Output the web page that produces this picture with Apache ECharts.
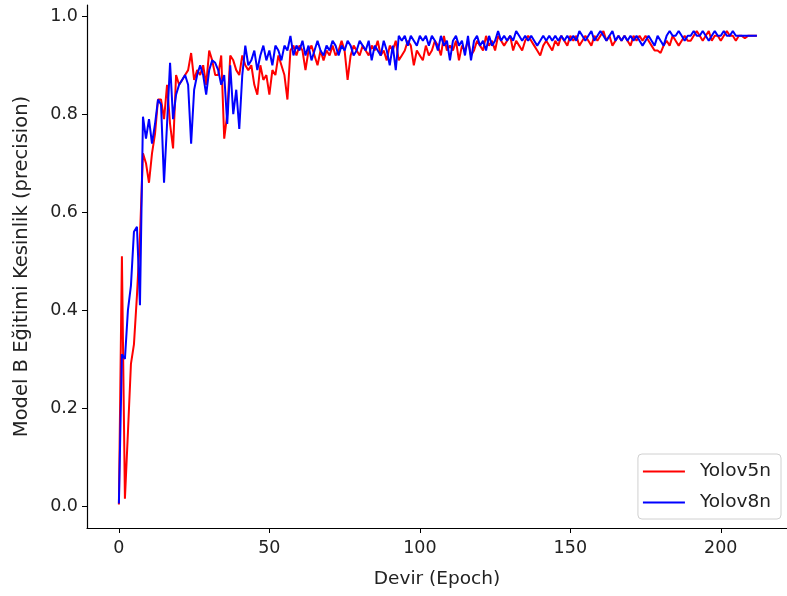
<!DOCTYPE html>
<html>
<head>
<meta charset="utf-8">
<script src="https://cdn.jsdelivr.net/npm/echarts@6/dist/echarts.min.js"></script>
<style>html,body{margin:0;padding:0;background:#fff}#c{width:787px;height:596px}</style>
</head>
<body>
<div id="c"></div>
<script>
const seriesNames = ["Yolov5n", "Yolov8n"];
const xTicks = [0, 50, 100, 150, 200];
const yTicks = [0, 0.2, 0.4, 0.6, 0.8, 1.0];
const yolov5n = [
0.003,0.51,0.015,0.15,0.29,0.33,0.43,0.55,0.72,0.70,
0.66,0.72,0.76,0.83,0.83,0.79,0.86,0.78,0.73,0.88,
0.86,0.87,0.88,0.89,0.925,0.87,0.89,0.88,0.90,0.86,
0.93,0.91,0.88,0.88,0.92,0.75,0.80,0.92,0.91,0.89,
0.88,0.92,0.90,0.89,0.90,0.86,0.84,0.90,0.87,0.88,
0.84,0.89,0.88,0.92,0.90,0.88,0.83,0.93,0.94,0.92,
0.94,0.93,0.89,0.93,0.94,0.92,0.90,0.93,0.91,0.93,
0.92,0.94,0.92,0.93,0.95,0.93,0.87,0.92,0.94,0.93,
0.92,0.94,0.93,0.92,0.94,0.93,0.95,0.92,0.93,0.91,
0.94,0.93,0.95,0.91,0.92,0.93,0.95,0.94,0.90,0.93,
0.92,0.91,0.94,0.92,0.93,0.95,0.94,0.92,0.96,0.93,
0.94,0.93,0.95,0.91,0.94,0.93,0.95,0.92,0.93,0.95,
0.94,0.93,0.96,0.94,0.95,0.93,0.96,0.95,0.94,0.95,
0.96,0.93,0.95,0.94,0.93,0.95,0.96,0.95,0.94,0.93,
0.92,0.94,0.95,0.94,0.93,0.95,0.94,0.96,0.95,0.94,
0.96,0.95,0.96,0.94,0.95,0.96,0.95,0.94,0.96,0.95,
0.96,0.97,0.95,0.96,0.94,0.95,0.96,0.95,0.96,0.95,
0.94,0.96,0.95,0.96,0.95,0.96,0.95,0.94,0.93,0.93,
0.925,0.94,0.95,0.94,0.96,0.95,0.94,0.95,0.96,0.95,
0.95,0.96,0.97,0.96,0.95,0.96,0.97,0.95,0.96,0.96,
0.95,0.96,0.97,0.96,0.96,0.95,0.96,0.96,0.955,0.96,
0.96,0.96,0.96
];
const yolov8n = [
0.005,0.31,0.30,0.40,0.45,0.56,0.57,0.41,0.795,0.75,
0.79,0.74,0.78,0.83,0.82,0.66,0.78,0.905,0.79,0.84,
0.86,0.87,0.88,0.86,0.74,0.85,0.88,0.90,0.88,0.84,
0.89,0.91,0.905,0.89,0.86,0.88,0.78,0.90,0.80,0.85,
0.77,0.88,0.94,0.90,0.91,0.93,0.89,0.92,0.94,0.91,
0.93,0.90,0.94,0.93,0.91,0.94,0.93,0.96,0.92,0.94,
0.93,0.95,0.92,0.94,0.91,0.93,0.95,0.93,0.92,0.94,
0.93,0.95,0.94,0.92,0.94,0.93,0.95,0.94,0.92,0.93,
0.95,0.94,0.93,0.95,0.91,0.94,0.93,0.92,0.95,0.93,
0.90,0.94,0.89,0.96,0.95,0.96,0.94,0.96,0.95,0.94,
0.96,0.95,0.96,0.94,0.96,0.95,0.93,0.96,0.94,0.95,
0.91,0.95,0.96,0.94,0.95,0.92,0.96,0.91,0.95,0.96,
0.94,0.95,0.93,0.96,0.94,0.95,0.97,0.95,0.96,0.95,
0.96,0.95,0.97,0.96,0.95,0.96,0.95,0.96,0.95,0.94,
0.95,0.96,0.95,0.96,0.95,0.96,0.95,0.96,0.95,0.96,
0.95,0.96,0.95,0.97,0.96,0.95,0.96,0.97,0.95,0.96,
0.97,0.96,0.95,0.96,0.97,0.95,0.96,0.95,0.96,0.95,
0.96,0.95,0.96,0.95,0.94,0.95,0.96,0.95,0.94,0.96,
0.95,0.94,0.96,0.97,0.96,0.96,0.97,0.96,0.95,0.96,
0.96,0.97,0.96,0.96,0.97,0.96,0.95,0.96,0.97,0.96,
0.96,0.97,0.96,0.96,0.97,0.96,0.96,0.96,0.96,0.96,
0.96,0.96,0.96
];
const colors = ["#ff0000", "#0000ff"];
const toPairs = arr => arr.map((v, i) => [i, v]);
const font = "DejaVu Sans";
const tickFont = 17.5;
const nameFont = 18.5;
const chart = echarts.init(document.getElementById('c'), null, {renderer: 'canvas'});
chart.setOption({
  animation: false,
  backgroundColor: '#fff',
  textStyle: {fontFamily: font},
  grid: {left: 87, right: 0, top: 5, bottom: 68, containLabel: false},
  legend: {
    orient: 'vertical', right: 6, bottom: 77,
    data: seriesNames.map((n, i) => ({name: n, icon: 'rect', itemStyle: {color: colors[i]}})),
    itemWidth: 42, itemHeight: 2, itemGap: 12,
    textStyle: {fontFamily: font, fontSize: nameFont, color: '#222', padding: [0, 0, 0, 10]},
    borderColor: '#d0d0d0', borderWidth: 1, borderRadius: 4,
    padding: [8, 10, 7, 5], backgroundColor: '#fff'
  },
  xAxis: {
    type: 'value', min: -10.6, max: 222,
    name: 'Devir (Epoch)', nameLocation: 'middle', nameGap: 42,
    nameTextStyle: {fontFamily: font, fontSize: nameFont, color: '#222'},
    splitLine: {show: false},
    axisLine: {onZero: false, lineStyle: {color: '#000', width: 1.2}},
    axisTick: {show: true, length: 5, customValues: xTicks, lineStyle: {color: '#000'}},
    axisLabel: {customValues: xTicks, fontSize: tickFont, color: '#222', margin: 11, fontFamily: font}
  },
  yAxis: {
    type: 'value', min: -0.045, max: 1.023,
    name: 'Model B Eğitimi Kesinlik (precision)', nameLocation: 'middle', nameGap: 55, nameRotate: 90,
    nameTextStyle: {fontFamily: font, fontSize: 19.5, color: '#222'},
    splitLine: {show: false},
    axisLine: {show: true, onZero: false, lineStyle: {color: '#000', width: 1.2}},
    axisTick: {show: true, length: 5, customValues: yTicks, lineStyle: {color: '#000'}},
    axisLabel: {customValues: yTicks, fontSize: tickFont, color: '#222', margin: 9, fontFamily: font,
      formatter: v => v.toFixed(1)}
  },
  series: [
    {name: seriesNames[0], type: 'line', data: toPairs(yolov5n), showSymbol: false, symbol: 'none',
     lineStyle: {color: colors[0], width: 2}, itemStyle: {color: colors[0]}, z: 2},
    {name: seriesNames[1], type: 'line', data: toPairs(yolov8n), showSymbol: false, symbol: 'none',
     lineStyle: {color: colors[1], width: 2}, itemStyle: {color: colors[1]}, z: 3}
  ]
});
</script>
</body>
</html>
